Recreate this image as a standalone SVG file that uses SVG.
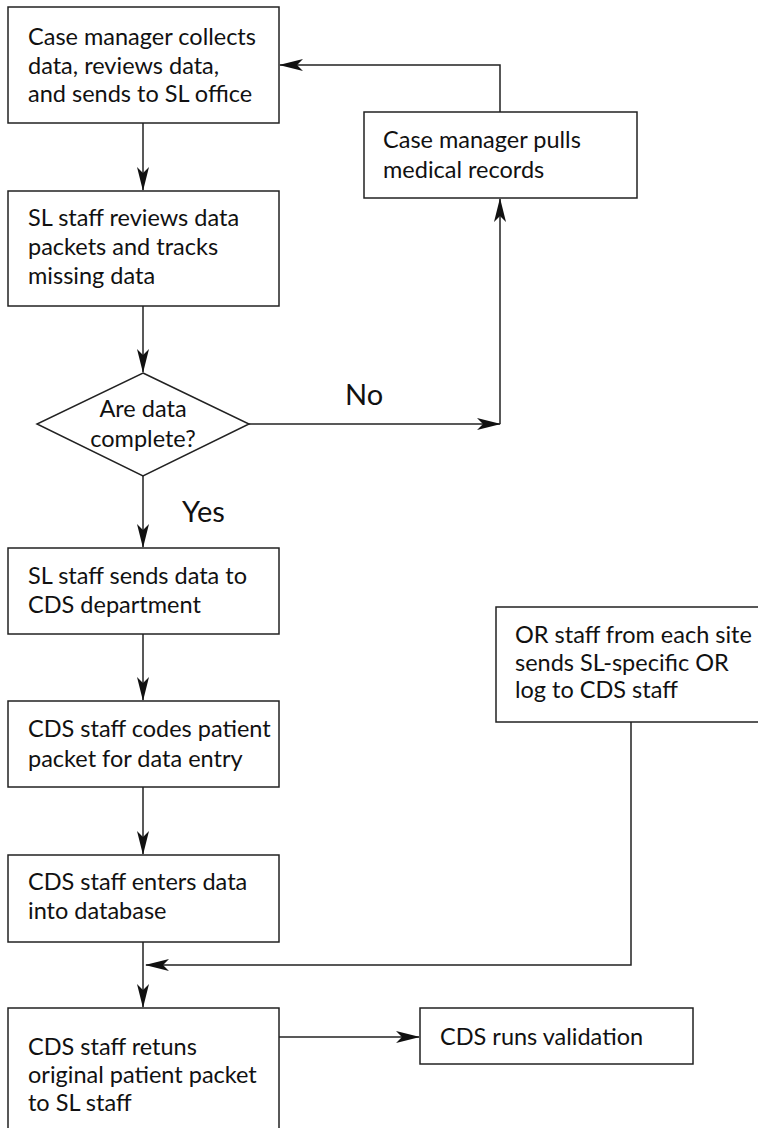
<svg xmlns="http://www.w3.org/2000/svg" width="758" height="1128" viewBox="0 0 758 1128">
<defs>
<marker id="ah" markerUnits="userSpaceOnUse" markerWidth="24" markerHeight="12" refX="23" refY="6" orient="auto" overflow="visible">
<path d="M0,0 L24,6 L0,12 L6,6 Z" fill="#111"/>
</marker>
</defs>
<style>
.box{fill:#fff;stroke:#222;stroke-width:1.5}
.t{font-family:Lato,"Open Sans",sans-serif;font-size:23.5px;fill:#111}
.c{text-anchor:middle}
.lbl{font-family:Lato,"Open Sans",sans-serif;font-size:29px;fill:#111}
.ln{fill:none;stroke:#222;stroke-width:1.5}
</style>
<rect width="758" height="1128" fill="#fff"/>
<g id="connectors">
<path class="ln" d="M143,123 V190" marker-end="url(#ah)"/>
<path class="ln" d="M143,306 V372" marker-end="url(#ah)"/>
<path class="ln" d="M249,424 H500" marker-end="url(#ah)"/>
<path class="ln" d="M500,424 V199" marker-end="url(#ah)"/>
<path class="ln" d="M500,112 V65 H280" marker-end="url(#ah)"/>
<path class="ln" d="M143,476 V547" marker-end="url(#ah)"/>
<path class="ln" d="M143,634 V700" marker-end="url(#ah)"/>
<path class="ln" d="M143,787 V854" marker-end="url(#ah)"/>
<path class="ln" d="M143,942 V1007" marker-end="url(#ah)"/>
<path class="ln" d="M631,722 V965 H146" marker-end="url(#ah)"/>
<path class="ln" d="M279,1037 H419" marker-end="url(#ah)"/>
<text class="lbl" x="345" y="405">No</text>
<text class="lbl" x="182" y="522">Yes</text>
</g>
<g id="n1">
<rect class="box" x="8" y="7" width="271" height="116"/>
<text class="t" x="28" y="45">Case manager collects</text>
<text class="t" x="28" y="74">data, reviews data,</text>
<text class="t" x="28" y="102">and sends to SL office</text>
</g>
<g id="n2">
<rect class="box" x="364" y="112" width="273" height="86"/>
<text class="t" x="383" y="148">Case manager pulls</text>
<text class="t" x="383" y="178">medical records</text>
</g>
<g id="n3">
<rect class="box" x="8" y="191" width="271" height="115"/>
<text class="t" x="28" y="226">SL staff reviews data</text>
<text class="t" x="28" y="255">packets and tracks</text>
<text class="t" x="28" y="284">missing data</text>
</g>
<g id="n4">
<polygon class="box" points="143,373 249,424 143,476 37,424"/>
<text class="t c" x="143" y="417">Are data</text>
<text class="t c" x="143" y="447">complete?</text>
</g>
<g id="n5">
<rect class="box" x="8" y="548" width="271" height="86"/>
<text class="t" x="28" y="584">SL staff sends data to</text>
<text class="t" x="28" y="613">CDS department</text>
</g>
<g id="n6">
<rect class="box" x="8" y="701" width="271" height="86"/>
<text class="t" x="28" y="737">CDS staff codes patient</text>
<text class="t" x="28" y="767">packet for data entry</text>
</g>
<g id="n7">
<rect class="box" x="8" y="855" width="271" height="87"/>
<text class="t" x="28" y="890">CDS staff enters data</text>
<text class="t" x="28" y="919">into database</text>
</g>
<g id="n8">
<rect class="box" x="496" y="607" width="280" height="115"/>
<text class="t" x="515" y="643">OR staff from each site</text>
<text class="t" x="515" y="671">sends SL-specific OR</text>
<text class="t" x="515" y="698">log to CDS staff</text>
</g>
<g id="n9">
<rect class="box" x="8" y="1008" width="271" height="130"/>
<text class="t" x="28" y="1055">CDS staff retuns</text>
<text class="t" x="28" y="1083">original patient packet</text>
<text class="t" x="28" y="1111">to SL staff</text>
</g>
<g id="n10">
<rect class="box" x="420" y="1008" width="273" height="56"/>
<text class="t" x="440" y="1045">CDS runs validation</text>
</g>
</svg>
